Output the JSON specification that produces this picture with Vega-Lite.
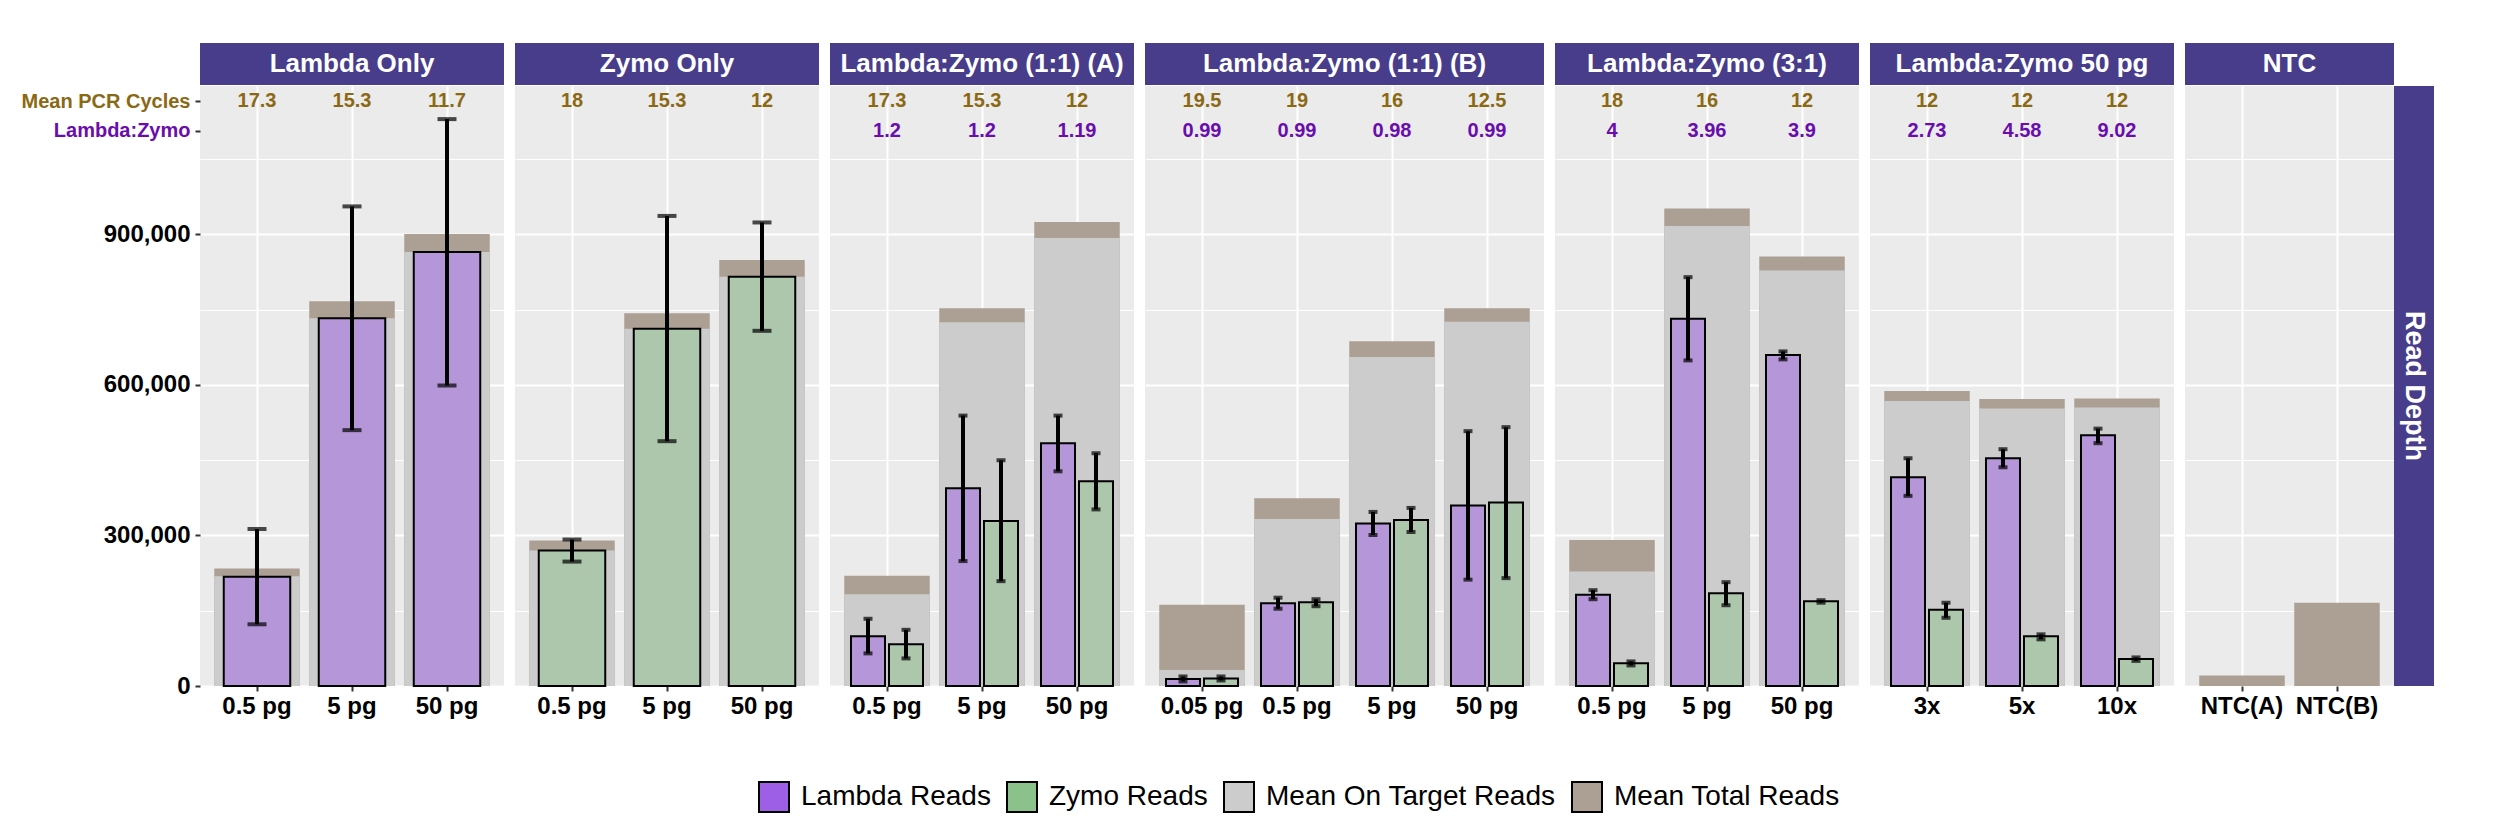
{
  "$schema": "https://vega.github.io/schema/vega-lite/v6.json",
  "padding": {"left": 21, "top": 43, "right": 10, "bottom": 10},
  "background": "white",
  "datasets": {
    "cats": [
      {"panel": "Lambda Only", "cat": "0.5 pg", "total": 234000, "ontarget": 219000, "cycles": 17.3},
      {"panel": "Lambda Only", "cat": "5 pg", "total": 767000, "ontarget": 733000, "cycles": 15.3},
      {"panel": "Lambda Only", "cat": "50 pg", "total": 901000, "ontarget": 865000, "cycles": 11.7},
      {"panel": "Zymo Only", "cat": "0.5 pg", "total": 290000, "ontarget": 270000, "cycles": 18},
      {"panel": "Zymo Only", "cat": "5 pg", "total": 743000, "ontarget": 712000, "cycles": 15.3},
      {"panel": "Zymo Only", "cat": "50 pg", "total": 849000, "ontarget": 816000, "cycles": 12},
      {"panel": "Lambda:Zymo (1:1) (A)", "cat": "0.5 pg", "total": 220000, "ontarget": 183000, "cycles": 17.3, "ratio": 1.2},
      {"panel": "Lambda:Zymo (1:1) (A)", "cat": "5 pg", "total": 753000, "ontarget": 725000, "cycles": 15.3, "ratio": 1.2},
      {"panel": "Lambda:Zymo (1:1) (A)", "cat": "50 pg", "total": 925000, "ontarget": 893000, "cycles": 12, "ratio": 1.19},
      {"panel": "Lambda:Zymo (1:1) (B)", "cat": "0.05 pg", "total": 162000, "ontarget": 32000, "cycles": 19.5, "ratio": 0.99},
      {"panel": "Lambda:Zymo (1:1) (B)", "cat": "0.5 pg", "total": 374000, "ontarget": 333000, "cycles": 19, "ratio": 0.99},
      {"panel": "Lambda:Zymo (1:1) (B)", "cat": "5 pg", "total": 687000, "ontarget": 656000, "cycles": 16, "ratio": 0.98},
      {"panel": "Lambda:Zymo (1:1) (B)", "cat": "50 pg", "total": 753000, "ontarget": 726000, "cycles": 12.5, "ratio": 0.99},
      {"panel": "Lambda:Zymo (3:1)", "cat": "0.5 pg", "total": 291000, "ontarget": 228000, "cycles": 18, "ratio": 4},
      {"panel": "Lambda:Zymo (3:1)", "cat": "5 pg", "total": 952000, "ontarget": 917000, "cycles": 16, "ratio": 3.96},
      {"panel": "Lambda:Zymo (3:1)", "cat": "50 pg", "total": 856000, "ontarget": 828000, "cycles": 12, "ratio": 3.9},
      {"panel": "Lambda:Zymo 50 pg", "cat": "3x", "total": 588000, "ontarget": 568000, "cycles": 12, "ratio": 2.73},
      {"panel": "Lambda:Zymo 50 pg", "cat": "5x", "total": 572000, "ontarget": 553000, "cycles": 12, "ratio": 4.58},
      {"panel": "Lambda:Zymo 50 pg", "cat": "10x", "total": 573000, "ontarget": 555000, "cycles": 12, "ratio": 9.02},
      {"panel": "NTC", "cat": "NTC(A)", "total": 21000, "ontarget": 0},
      {"panel": "NTC", "cat": "NTC(B)", "total": 166000, "ontarget": 0}
    ],
    "reads": [
      {"panel": "Lambda Only", "cat": "0.5 pg", "series": "Lambda Reads", "mean": 218000, "lo": 123000, "hi": 313000},
      {"panel": "Lambda Only", "cat": "5 pg", "series": "Lambda Reads", "mean": 733000, "lo": 510000, "hi": 956000},
      {"panel": "Lambda Only", "cat": "50 pg", "series": "Lambda Reads", "mean": 865000, "lo": 599000, "hi": 1130000},
      {"panel": "Zymo Only", "cat": "0.5 pg", "series": "Zymo Reads", "mean": 270000, "lo": 248000, "hi": 292000},
      {"panel": "Zymo Only", "cat": "5 pg", "series": "Zymo Reads", "mean": 712000, "lo": 488000, "hi": 937000},
      {"panel": "Zymo Only", "cat": "50 pg", "series": "Zymo Reads", "mean": 816000, "lo": 708000, "hi": 924000},
      {"panel": "Lambda:Zymo (1:1) (A)", "cat": "0.5 pg", "series": "Lambda Reads", "mean": 99000, "lo": 65000, "hi": 134000},
      {"panel": "Lambda:Zymo (1:1) (A)", "cat": "0.5 pg", "series": "Zymo Reads", "mean": 83000, "lo": 55000, "hi": 112000},
      {"panel": "Lambda:Zymo (1:1) (A)", "cat": "5 pg", "series": "Lambda Reads", "mean": 394000, "lo": 249000, "hi": 539000},
      {"panel": "Lambda:Zymo (1:1) (A)", "cat": "5 pg", "series": "Zymo Reads", "mean": 329000, "lo": 209000, "hi": 450000},
      {"panel": "Lambda:Zymo (1:1) (A)", "cat": "50 pg", "series": "Lambda Reads", "mean": 484000, "lo": 428000, "hi": 539000},
      {"panel": "Lambda:Zymo (1:1) (A)", "cat": "50 pg", "series": "Zymo Reads", "mean": 408000, "lo": 352000, "hi": 464000},
      {"panel": "Lambda:Zymo (1:1) (B)", "cat": "0.05 pg", "series": "Lambda Reads", "mean": 14000, "lo": 9000, "hi": 19000},
      {"panel": "Lambda:Zymo (1:1) (B)", "cat": "0.05 pg", "series": "Zymo Reads", "mean": 15000, "lo": 11000, "hi": 19000},
      {"panel": "Lambda:Zymo (1:1) (B)", "cat": "0.5 pg", "series": "Lambda Reads", "mean": 165000, "lo": 154000, "hi": 176000},
      {"panel": "Lambda:Zymo (1:1) (B)", "cat": "0.5 pg", "series": "Zymo Reads", "mean": 167000, "lo": 159000, "hi": 173000},
      {"panel": "Lambda:Zymo (1:1) (B)", "cat": "5 pg", "series": "Lambda Reads", "mean": 324000, "lo": 301000, "hi": 347000},
      {"panel": "Lambda:Zymo (1:1) (B)", "cat": "5 pg", "series": "Zymo Reads", "mean": 331000, "lo": 307000, "hi": 355000},
      {"panel": "Lambda:Zymo (1:1) (B)", "cat": "50 pg", "series": "Lambda Reads", "mean": 360000, "lo": 212000, "hi": 508000},
      {"panel": "Lambda:Zymo (1:1) (B)", "cat": "50 pg", "series": "Zymo Reads", "mean": 366000, "lo": 215000, "hi": 516000},
      {"panel": "Lambda:Zymo (3:1)", "cat": "0.5 pg", "series": "Lambda Reads", "mean": 182000, "lo": 173000, "hi": 191000},
      {"panel": "Lambda:Zymo (3:1)", "cat": "0.5 pg", "series": "Zymo Reads", "mean": 45500, "lo": 41000, "hi": 49000},
      {"panel": "Lambda:Zymo (3:1)", "cat": "5 pg", "series": "Lambda Reads", "mean": 732000, "lo": 649000, "hi": 815000},
      {"panel": "Lambda:Zymo (3:1)", "cat": "5 pg", "series": "Zymo Reads", "mean": 185000, "lo": 161000, "hi": 207000},
      {"panel": "Lambda:Zymo (3:1)", "cat": "50 pg", "series": "Lambda Reads", "mean": 660000, "lo": 651000, "hi": 667000},
      {"panel": "Lambda:Zymo (3:1)", "cat": "50 pg", "series": "Zymo Reads", "mean": 169000, "lo": 166000, "hi": 171000},
      {"panel": "Lambda:Zymo 50 pg", "cat": "3x", "series": "Lambda Reads", "mean": 416000, "lo": 379000, "hi": 454000},
      {"panel": "Lambda:Zymo 50 pg", "cat": "3x", "series": "Zymo Reads", "mean": 152000, "lo": 136000, "hi": 166000},
      {"panel": "Lambda:Zymo 50 pg", "cat": "5x", "series": "Lambda Reads", "mean": 454000, "lo": 436000, "hi": 472000},
      {"panel": "Lambda:Zymo 50 pg", "cat": "5x", "series": "Zymo Reads", "mean": 99000, "lo": 93000, "hi": 103000},
      {"panel": "Lambda:Zymo 50 pg", "cat": "10x", "series": "Lambda Reads", "mean": 500000, "lo": 484000, "hi": 513000},
      {"panel": "Lambda:Zymo 50 pg", "cat": "10x", "series": "Zymo Reads", "mean": 54000, "lo": 50000, "hi": 57000}
    ]
  },
  "spacing": 11,
  "resolve": {"scale": {"color": "shared", "x": "independent", "y": "independent"}},
  "hconcat": [
    {
      "bounds": "flush",
      "spacing": 1,
      "vconcat": [
        {
          "width": 304, "height": 42,
          "view": {"fill": "#483D8B", "stroke": null},
          "data": {"values": [{"label": "Lambda Only"}]},
          "mark": {"type": "text", "color": "white", "font": "Liberation Sans", "fontSize": 26, "fontWeight": "bold", "baseline": "middle"},
          "encoding": {"text": {"field": "label", "type": "nominal"}}
        },
        {
          "width": 304, "height": 600,
          "view": {"fill": "#EBEBEB", "stroke": null},
          "data": {"name": "cats"},
          "transform": [{"filter": "datum.panel == 'Lambda Only'"}],
          "encoding": {
            "x": {"field": "cat", "type": "nominal", "title": null,
              "scale": {"domain": ["0.5 pg", "5 pg", "50 pg"], "paddingInner": 0, "paddingOuter": 0.1},
              "axis": {"labelFont": "Liberation Sans", "labelFontSize": 24, "labelFontWeight": "bold", "labelColor": "black", "labelAngle": 0, "labelPadding": 3, "tickColor": "#333333", "tickSize": 5, "tickWidth": 2, "domain": false, "grid": true, "gridColor": "white", "gridWidth": 2, "bandPosition": 0.5}}
          },
          "layer": [
            {
              "mark": {"type": "bar", "width": {"band": 0.9}},
              "encoding": {
                "y": {"field": "total", "type": "quantitative", "title": null,
                  "scale": {"domain": [0, 1196000], "nice": false, "zero": true},
                  "axis": {
                    "values": [0, 150000, 300000, 450000, 600000, 750000, 900000, 1050000, 1107000, 1166000],
                    "labelExpr": "datum.value == 1166000 ? 'Mean PCR Cycles' : datum.value == 1107000 ? 'Lambda:Zymo' : (datum.value % 300000 == 0 ? format(datum.value, ',') : '')",
                    "labelFont": "Liberation Sans", "labelFontWeight": "bold",
                    "labelFontSize": {"condition": {"test": "datum.value > 1100000", "value": 20}, "value": 24},
                    "labelColor": {"expr": "datum.value == 1166000 ? '#8B6914' : datum.value == 1107000 ? '#6A0DAD' : 'black'"},
                    "labelPadding": 5, "labelOverlap": false,
                    "tickColor": "#333333", "tickSize": 5, "tickWidth": 2,
                    "tickOpacity": {"condition": {"test": "datum.value % 300000 != 0 && datum.value < 1100000", "value": 0}, "value": 1},
                    "domain": false, "grid": true, "gridColor": "white",
                    "gridWidth": {"condition": {"test": "datum.value % 300000 == 0", "value": 2}, "value": 1},
                    "gridOpacity": {"condition": {"test": "datum.value > 1100000", "value": 0}, "value": 1}
                  }},
                "color": {"datum": "Mean Total Reads", "type": "nominal", "title": null,
                  "scale": {"domain": ["Lambda Reads", "Zymo Reads", "Mean On Target Reads", "Mean Total Reads"], "range": ["#9D5FE6", "#8BC18B", "#CCCCCC", "#AC9F94"]},
                  "legend": {"orient": "none", "legendX": 558, "legendY": 738, "direction": "horizontal", "title": null, "symbolType": "square", "symbolSize": 900, "symbolStrokeWidth": 2,
                    "symbolStrokeColor": {"expr": "datum.value == 'Lambda Reads' || datum.value == 'Zymo Reads' ? 'black' : null"},
                    "symbolOpacity": 1, "labelFont": "Liberation Sans", "labelFontSize": 28, "labelColor": "black", "labelOffset": 11, "columnPadding": 12, "labelLimit": 0}}
              }
            },
            {
              "mark": {"type": "bar", "width": {"band": 0.9}},
              "encoding": {
                "y": {"field": "ontarget", "type": "quantitative"},
                "color": {"datum": "Mean On Target Reads", "type": "nominal", "title": null}
              }
            },
            {
              "data": {"name": "reads"},
              "transform": [{"filter": "datum.panel == 'Lambda Only'"}],
              "mark": {"type": "bar", "width": {"band": 0.7}, "stroke": "black", "strokeWidth": 2, "fillOpacity": 0.5},
              "encoding": {
                "y": {"field": "mean", "type": "quantitative"},
                "color": {"field": "series", "type": "nominal", "title": null}
              }
            },
            {
              "data": {"name": "reads"},
              "transform": [{"filter": "datum.panel == 'Lambda Only'"}],
              "mark": {"type": "rule", "color": "black", "strokeWidth": 4},
              "encoding": {"y": {"field": "lo", "type": "quantitative"}, "y2": {"field": "hi"}}
            },
            {
              "data": {"name": "reads"},
              "transform": [{"filter": "datum.panel == 'Lambda Only'"}],
              "mark": {"type": "tick", "color": "black", "thickness": 4, "size": 19},
              "encoding": {"y": {"field": "lo", "type": "quantitative"}}
            },
            {
              "data": {"name": "reads"},
              "transform": [{"filter": "datum.panel == 'Lambda Only'"}],
              "mark": {"type": "tick", "color": "black", "thickness": 4, "size": 19},
              "encoding": {"y": {"field": "hi", "type": "quantitative"}}
            },
            {
              "mark": {"type": "text", "font": "Liberation Sans", "fontSize": 20, "fontWeight": "bold", "color": "#8B6914", "baseline": "middle"},
              "encoding": {"y": {"datum": 1166000, "type": "quantitative"}, "text": {"field": "cycles", "type": "nominal"}}
            }
          ]
        }
      ]
    },
    {
      "bounds": "flush",
      "spacing": 1,
      "vconcat": [
        {
          "width": 304, "height": 42,
          "view": {"fill": "#483D8B", "stroke": null},
          "data": {"values": [{"label": "Zymo Only"}]},
          "mark": {"type": "text", "color": "white", "font": "Liberation Sans", "fontSize": 26, "fontWeight": "bold", "baseline": "middle"},
          "encoding": {"text": {"field": "label", "type": "nominal"}}
        },
        {
          "width": 304, "height": 600,
          "view": {"fill": "#EBEBEB", "stroke": null},
          "data": {"name": "cats"},
          "transform": [{"filter": "datum.panel == 'Zymo Only'"}],
          "encoding": {
            "x": {"field": "cat", "type": "nominal", "title": null,
              "scale": {"domain": ["0.5 pg", "5 pg", "50 pg"], "paddingInner": 0, "paddingOuter": 0.1},
              "axis": {"labelFont": "Liberation Sans", "labelFontSize": 24, "labelFontWeight": "bold", "labelColor": "black", "labelAngle": 0, "labelPadding": 3, "tickColor": "#333333", "tickSize": 5, "tickWidth": 2, "domain": false, "grid": true, "gridColor": "white", "gridWidth": 2, "bandPosition": 0.5}}
          },
          "layer": [
            {
              "mark": {"type": "bar", "width": {"band": 0.9}},
              "encoding": {
                "y": {"field": "total", "type": "quantitative", "title": null,
                  "scale": {"domain": [0, 1196000], "nice": false, "zero": true},
                  "axis": {
                    "values": [0, 150000, 300000, 450000, 600000, 750000, 900000, 1050000],
                    "labels": false, "ticks": false, "domain": false, "grid": true, "gridColor": "white",
                    "gridWidth": {"condition": {"test": "datum.value % 300000 == 0", "value": 2}, "value": 1}
                  }},
                "color": {"datum": "Mean Total Reads", "type": "nominal", "title": null}
              }
            },
            {
              "mark": {"type": "bar", "width": {"band": 0.9}},
              "encoding": {
                "y": {"field": "ontarget", "type": "quantitative"},
                "color": {"datum": "Mean On Target Reads", "type": "nominal", "title": null}
              }
            },
            {
              "data": {"name": "reads"},
              "transform": [{"filter": "datum.panel == 'Zymo Only'"}],
              "mark": {"type": "bar", "width": {"band": 0.7}, "stroke": "black", "strokeWidth": 2, "fillOpacity": 0.5},
              "encoding": {
                "y": {"field": "mean", "type": "quantitative"},
                "color": {"field": "series", "type": "nominal", "title": null}
              }
            },
            {
              "data": {"name": "reads"},
              "transform": [{"filter": "datum.panel == 'Zymo Only'"}],
              "mark": {"type": "rule", "color": "black", "strokeWidth": 4},
              "encoding": {"y": {"field": "lo", "type": "quantitative"}, "y2": {"field": "hi"}}
            },
            {
              "data": {"name": "reads"},
              "transform": [{"filter": "datum.panel == 'Zymo Only'"}],
              "mark": {"type": "tick", "color": "black", "thickness": 4, "size": 19},
              "encoding": {"y": {"field": "lo", "type": "quantitative"}}
            },
            {
              "data": {"name": "reads"},
              "transform": [{"filter": "datum.panel == 'Zymo Only'"}],
              "mark": {"type": "tick", "color": "black", "thickness": 4, "size": 19},
              "encoding": {"y": {"field": "hi", "type": "quantitative"}}
            },
            {
              "mark": {"type": "text", "font": "Liberation Sans", "fontSize": 20, "fontWeight": "bold", "color": "#8B6914", "baseline": "middle"},
              "encoding": {"y": {"datum": 1166000, "type": "quantitative"}, "text": {"field": "cycles", "type": "nominal"}}
            }
          ]
        }
      ]
    },
    {
      "bounds": "flush",
      "spacing": 1,
      "vconcat": [
        {
          "width": 304, "height": 42,
          "view": {"fill": "#483D8B", "stroke": null},
          "data": {"values": [{"label": "Lambda:Zymo (1:1) (A)"}]},
          "mark": {"type": "text", "color": "white", "font": "Liberation Sans", "fontSize": 26, "fontWeight": "bold", "baseline": "middle"},
          "encoding": {"text": {"field": "label", "type": "nominal"}}
        },
        {
          "width": 304, "height": 600,
          "view": {"fill": "#EBEBEB", "stroke": null},
          "data": {"name": "cats"},
          "transform": [{"filter": "datum.panel == 'Lambda:Zymo (1:1) (A)'"}],
          "encoding": {
            "x": {"field": "cat", "type": "nominal", "title": null,
              "scale": {"domain": ["0.5 pg", "5 pg", "50 pg"], "paddingInner": 0, "paddingOuter": 0.1},
              "axis": {"labelFont": "Liberation Sans", "labelFontSize": 24, "labelFontWeight": "bold", "labelColor": "black", "labelAngle": 0, "labelPadding": 3, "tickColor": "#333333", "tickSize": 5, "tickWidth": 2, "domain": false, "grid": true, "gridColor": "white", "gridWidth": 2, "bandPosition": 0.5}}
          },
          "layer": [
            {
              "mark": {"type": "bar", "width": {"band": 0.9}},
              "encoding": {
                "y": {"field": "total", "type": "quantitative", "title": null,
                  "scale": {"domain": [0, 1196000], "nice": false, "zero": true},
                  "axis": {
                    "values": [0, 150000, 300000, 450000, 600000, 750000, 900000, 1050000],
                    "labels": false, "ticks": false, "domain": false, "grid": true, "gridColor": "white",
                    "gridWidth": {"condition": {"test": "datum.value % 300000 == 0", "value": 2}, "value": 1}
                  }},
                "color": {"datum": "Mean Total Reads", "type": "nominal", "title": null}
              }
            },
            {
              "mark": {"type": "bar", "width": {"band": 0.9}},
              "encoding": {
                "y": {"field": "ontarget", "type": "quantitative"},
                "color": {"datum": "Mean On Target Reads", "type": "nominal", "title": null}
              }
            },
            {
              "data": {"name": "reads"},
              "transform": [{"filter": "datum.panel == 'Lambda:Zymo (1:1) (A)'"}],
              "mark": {"type": "bar", "stroke": "black", "strokeWidth": 2, "fillOpacity": 0.5},
              "encoding": {
                "xOffset": {"field": "series", "type": "nominal", "scale": {"domain": ["Lambda Reads", "Zymo Reads"], "paddingInner": 0.105, "paddingOuter": 0.3026}},
                "y": {"field": "mean", "type": "quantitative"},
                "color": {"field": "series", "type": "nominal", "title": null}
              }
            },
            {
              "data": {"name": "reads"},
              "transform": [{"filter": "datum.panel == 'Lambda:Zymo (1:1) (A)'"}],
              "mark": {"type": "rule", "color": "black", "strokeWidth": 4},
              "encoding": {"xOffset": {"field": "series", "type": "nominal"}, "y": {"field": "lo", "type": "quantitative"}, "y2": {"field": "hi"}}
            },
            {
              "data": {"name": "reads"},
              "transform": [{"filter": "datum.panel == 'Lambda:Zymo (1:1) (A)'"}],
              "mark": {"type": "tick", "color": "black", "thickness": 4, "size": 9},
              "encoding": {"xOffset": {"field": "series", "type": "nominal"}, "y": {"field": "lo", "type": "quantitative"}}
            },
            {
              "data": {"name": "reads"},
              "transform": [{"filter": "datum.panel == 'Lambda:Zymo (1:1) (A)'"}],
              "mark": {"type": "tick", "color": "black", "thickness": 4, "size": 9},
              "encoding": {"xOffset": {"field": "series", "type": "nominal"}, "y": {"field": "hi", "type": "quantitative"}}
            },
            {
              "mark": {"type": "text", "font": "Liberation Sans", "fontSize": 20, "fontWeight": "bold", "color": "#8B6914", "baseline": "middle"},
              "encoding": {"y": {"datum": 1166000, "type": "quantitative"}, "text": {"field": "cycles", "type": "nominal"}}
            },
            {
              "mark": {"type": "text", "font": "Liberation Sans", "fontSize": 20, "fontWeight": "bold", "color": "#6A0DAD", "baseline": "middle"},
              "encoding": {"y": {"datum": 1107000, "type": "quantitative"}, "text": {"field": "ratio", "type": "nominal"}}
            }
          ]
        }
      ]
    },
    {
      "bounds": "flush",
      "spacing": 1,
      "vconcat": [
        {
          "width": 399, "height": 42,
          "view": {"fill": "#483D8B", "stroke": null},
          "data": {"values": [{"label": "Lambda:Zymo (1:1) (B)"}]},
          "mark": {"type": "text", "color": "white", "font": "Liberation Sans", "fontSize": 26, "fontWeight": "bold", "baseline": "middle"},
          "encoding": {"text": {"field": "label", "type": "nominal"}}
        },
        {
          "width": 399, "height": 600,
          "view": {"fill": "#EBEBEB", "stroke": null},
          "data": {"name": "cats"},
          "transform": [{"filter": "datum.panel == 'Lambda:Zymo (1:1) (B)'"}],
          "encoding": {
            "x": {"field": "cat", "type": "nominal", "title": null,
              "scale": {"domain": ["0.05 pg", "0.5 pg", "5 pg", "50 pg"], "paddingInner": 0, "paddingOuter": 0.1},
              "axis": {"labelFont": "Liberation Sans", "labelFontSize": 24, "labelFontWeight": "bold", "labelColor": "black", "labelAngle": 0, "labelPadding": 3, "tickColor": "#333333", "tickSize": 5, "tickWidth": 2, "domain": false, "grid": true, "gridColor": "white", "gridWidth": 2, "bandPosition": 0.5}}
          },
          "layer": [
            {
              "mark": {"type": "bar", "width": {"band": 0.9}},
              "encoding": {
                "y": {"field": "total", "type": "quantitative", "title": null,
                  "scale": {"domain": [0, 1196000], "nice": false, "zero": true},
                  "axis": {
                    "values": [0, 150000, 300000, 450000, 600000, 750000, 900000, 1050000],
                    "labels": false, "ticks": false, "domain": false, "grid": true, "gridColor": "white",
                    "gridWidth": {"condition": {"test": "datum.value % 300000 == 0", "value": 2}, "value": 1}
                  }},
                "color": {"datum": "Mean Total Reads", "type": "nominal", "title": null}
              }
            },
            {
              "mark": {"type": "bar", "width": {"band": 0.9}},
              "encoding": {
                "y": {"field": "ontarget", "type": "quantitative"},
                "color": {"datum": "Mean On Target Reads", "type": "nominal", "title": null}
              }
            },
            {
              "data": {"name": "reads"},
              "transform": [{"filter": "datum.panel == 'Lambda:Zymo (1:1) (B)'"}],
              "mark": {"type": "bar", "stroke": "black", "strokeWidth": 2, "fillOpacity": 0.5},
              "encoding": {
                "xOffset": {"field": "series", "type": "nominal", "scale": {"domain": ["Lambda Reads", "Zymo Reads"], "paddingInner": 0.105, "paddingOuter": 0.3026}},
                "y": {"field": "mean", "type": "quantitative"},
                "color": {"field": "series", "type": "nominal", "title": null}
              }
            },
            {
              "data": {"name": "reads"},
              "transform": [{"filter": "datum.panel == 'Lambda:Zymo (1:1) (B)'"}],
              "mark": {"type": "rule", "color": "black", "strokeWidth": 4},
              "encoding": {"xOffset": {"field": "series", "type": "nominal"}, "y": {"field": "lo", "type": "quantitative"}, "y2": {"field": "hi"}}
            },
            {
              "data": {"name": "reads"},
              "transform": [{"filter": "datum.panel == 'Lambda:Zymo (1:1) (B)'"}],
              "mark": {"type": "tick", "color": "black", "thickness": 4, "size": 9},
              "encoding": {"xOffset": {"field": "series", "type": "nominal"}, "y": {"field": "lo", "type": "quantitative"}}
            },
            {
              "data": {"name": "reads"},
              "transform": [{"filter": "datum.panel == 'Lambda:Zymo (1:1) (B)'"}],
              "mark": {"type": "tick", "color": "black", "thickness": 4, "size": 9},
              "encoding": {"xOffset": {"field": "series", "type": "nominal"}, "y": {"field": "hi", "type": "quantitative"}}
            },
            {
              "mark": {"type": "text", "font": "Liberation Sans", "fontSize": 20, "fontWeight": "bold", "color": "#8B6914", "baseline": "middle"},
              "encoding": {"y": {"datum": 1166000, "type": "quantitative"}, "text": {"field": "cycles", "type": "nominal"}}
            },
            {
              "mark": {"type": "text", "font": "Liberation Sans", "fontSize": 20, "fontWeight": "bold", "color": "#6A0DAD", "baseline": "middle"},
              "encoding": {"y": {"datum": 1107000, "type": "quantitative"}, "text": {"field": "ratio", "type": "nominal"}}
            }
          ]
        }
      ]
    },
    {
      "bounds": "flush",
      "spacing": 1,
      "vconcat": [
        {
          "width": 304, "height": 42,
          "view": {"fill": "#483D8B", "stroke": null},
          "data": {"values": [{"label": "Lambda:Zymo (3:1)"}]},
          "mark": {"type": "text", "color": "white", "font": "Liberation Sans", "fontSize": 26, "fontWeight": "bold", "baseline": "middle"},
          "encoding": {"text": {"field": "label", "type": "nominal"}}
        },
        {
          "width": 304, "height": 600,
          "view": {"fill": "#EBEBEB", "stroke": null},
          "data": {"name": "cats"},
          "transform": [{"filter": "datum.panel == 'Lambda:Zymo (3:1)'"}],
          "encoding": {
            "x": {"field": "cat", "type": "nominal", "title": null,
              "scale": {"domain": ["0.5 pg", "5 pg", "50 pg"], "paddingInner": 0, "paddingOuter": 0.1},
              "axis": {"labelFont": "Liberation Sans", "labelFontSize": 24, "labelFontWeight": "bold", "labelColor": "black", "labelAngle": 0, "labelPadding": 3, "tickColor": "#333333", "tickSize": 5, "tickWidth": 2, "domain": false, "grid": true, "gridColor": "white", "gridWidth": 2, "bandPosition": 0.5}}
          },
          "layer": [
            {
              "mark": {"type": "bar", "width": {"band": 0.9}},
              "encoding": {
                "y": {"field": "total", "type": "quantitative", "title": null,
                  "scale": {"domain": [0, 1196000], "nice": false, "zero": true},
                  "axis": {
                    "values": [0, 150000, 300000, 450000, 600000, 750000, 900000, 1050000],
                    "labels": false, "ticks": false, "domain": false, "grid": true, "gridColor": "white",
                    "gridWidth": {"condition": {"test": "datum.value % 300000 == 0", "value": 2}, "value": 1}
                  }},
                "color": {"datum": "Mean Total Reads", "type": "nominal", "title": null}
              }
            },
            {
              "mark": {"type": "bar", "width": {"band": 0.9}},
              "encoding": {
                "y": {"field": "ontarget", "type": "quantitative"},
                "color": {"datum": "Mean On Target Reads", "type": "nominal", "title": null}
              }
            },
            {
              "data": {"name": "reads"},
              "transform": [{"filter": "datum.panel == 'Lambda:Zymo (3:1)'"}],
              "mark": {"type": "bar", "stroke": "black", "strokeWidth": 2, "fillOpacity": 0.5},
              "encoding": {
                "xOffset": {"field": "series", "type": "nominal", "scale": {"domain": ["Lambda Reads", "Zymo Reads"], "paddingInner": 0.105, "paddingOuter": 0.3026}},
                "y": {"field": "mean", "type": "quantitative"},
                "color": {"field": "series", "type": "nominal", "title": null}
              }
            },
            {
              "data": {"name": "reads"},
              "transform": [{"filter": "datum.panel == 'Lambda:Zymo (3:1)'"}],
              "mark": {"type": "rule", "color": "black", "strokeWidth": 4},
              "encoding": {"xOffset": {"field": "series", "type": "nominal"}, "y": {"field": "lo", "type": "quantitative"}, "y2": {"field": "hi"}}
            },
            {
              "data": {"name": "reads"},
              "transform": [{"filter": "datum.panel == 'Lambda:Zymo (3:1)'"}],
              "mark": {"type": "tick", "color": "black", "thickness": 4, "size": 9},
              "encoding": {"xOffset": {"field": "series", "type": "nominal"}, "y": {"field": "lo", "type": "quantitative"}}
            },
            {
              "data": {"name": "reads"},
              "transform": [{"filter": "datum.panel == 'Lambda:Zymo (3:1)'"}],
              "mark": {"type": "tick", "color": "black", "thickness": 4, "size": 9},
              "encoding": {"xOffset": {"field": "series", "type": "nominal"}, "y": {"field": "hi", "type": "quantitative"}}
            },
            {
              "mark": {"type": "text", "font": "Liberation Sans", "fontSize": 20, "fontWeight": "bold", "color": "#8B6914", "baseline": "middle"},
              "encoding": {"y": {"datum": 1166000, "type": "quantitative"}, "text": {"field": "cycles", "type": "nominal"}}
            },
            {
              "mark": {"type": "text", "font": "Liberation Sans", "fontSize": 20, "fontWeight": "bold", "color": "#6A0DAD", "baseline": "middle"},
              "encoding": {"y": {"datum": 1107000, "type": "quantitative"}, "text": {"field": "ratio", "type": "nominal"}}
            }
          ]
        }
      ]
    },
    {
      "bounds": "flush",
      "spacing": 1,
      "vconcat": [
        {
          "width": 304, "height": 42,
          "view": {"fill": "#483D8B", "stroke": null},
          "data": {"values": [{"label": "Lambda:Zymo 50 pg"}]},
          "mark": {"type": "text", "color": "white", "font": "Liberation Sans", "fontSize": 26, "fontWeight": "bold", "baseline": "middle"},
          "encoding": {"text": {"field": "label", "type": "nominal"}}
        },
        {
          "width": 304, "height": 600,
          "view": {"fill": "#EBEBEB", "stroke": null},
          "data": {"name": "cats"},
          "transform": [{"filter": "datum.panel == 'Lambda:Zymo 50 pg'"}],
          "encoding": {
            "x": {"field": "cat", "type": "nominal", "title": null,
              "scale": {"domain": ["3x", "5x", "10x"], "paddingInner": 0, "paddingOuter": 0.1},
              "axis": {"labelFont": "Liberation Sans", "labelFontSize": 24, "labelFontWeight": "bold", "labelColor": "black", "labelAngle": 0, "labelPadding": 3, "tickColor": "#333333", "tickSize": 5, "tickWidth": 2, "domain": false, "grid": true, "gridColor": "white", "gridWidth": 2, "bandPosition": 0.5}}
          },
          "layer": [
            {
              "mark": {"type": "bar", "width": {"band": 0.9}},
              "encoding": {
                "y": {"field": "total", "type": "quantitative", "title": null,
                  "scale": {"domain": [0, 1196000], "nice": false, "zero": true},
                  "axis": {
                    "values": [0, 150000, 300000, 450000, 600000, 750000, 900000, 1050000],
                    "labels": false, "ticks": false, "domain": false, "grid": true, "gridColor": "white",
                    "gridWidth": {"condition": {"test": "datum.value % 300000 == 0", "value": 2}, "value": 1}
                  }},
                "color": {"datum": "Mean Total Reads", "type": "nominal", "title": null}
              }
            },
            {
              "mark": {"type": "bar", "width": {"band": 0.9}},
              "encoding": {
                "y": {"field": "ontarget", "type": "quantitative"},
                "color": {"datum": "Mean On Target Reads", "type": "nominal", "title": null}
              }
            },
            {
              "data": {"name": "reads"},
              "transform": [{"filter": "datum.panel == 'Lambda:Zymo 50 pg'"}],
              "mark": {"type": "bar", "stroke": "black", "strokeWidth": 2, "fillOpacity": 0.5},
              "encoding": {
                "xOffset": {"field": "series", "type": "nominal", "scale": {"domain": ["Lambda Reads", "Zymo Reads"], "paddingInner": 0.105, "paddingOuter": 0.3026}},
                "y": {"field": "mean", "type": "quantitative"},
                "color": {"field": "series", "type": "nominal", "title": null}
              }
            },
            {
              "data": {"name": "reads"},
              "transform": [{"filter": "datum.panel == 'Lambda:Zymo 50 pg'"}],
              "mark": {"type": "rule", "color": "black", "strokeWidth": 4},
              "encoding": {"xOffset": {"field": "series", "type": "nominal"}, "y": {"field": "lo", "type": "quantitative"}, "y2": {"field": "hi"}}
            },
            {
              "data": {"name": "reads"},
              "transform": [{"filter": "datum.panel == 'Lambda:Zymo 50 pg'"}],
              "mark": {"type": "tick", "color": "black", "thickness": 4, "size": 9},
              "encoding": {"xOffset": {"field": "series", "type": "nominal"}, "y": {"field": "lo", "type": "quantitative"}}
            },
            {
              "data": {"name": "reads"},
              "transform": [{"filter": "datum.panel == 'Lambda:Zymo 50 pg'"}],
              "mark": {"type": "tick", "color": "black", "thickness": 4, "size": 9},
              "encoding": {"xOffset": {"field": "series", "type": "nominal"}, "y": {"field": "hi", "type": "quantitative"}}
            },
            {
              "mark": {"type": "text", "font": "Liberation Sans", "fontSize": 20, "fontWeight": "bold", "color": "#8B6914", "baseline": "middle"},
              "encoding": {"y": {"datum": 1166000, "type": "quantitative"}, "text": {"field": "cycles", "type": "nominal"}}
            },
            {
              "mark": {"type": "text", "font": "Liberation Sans", "fontSize": 20, "fontWeight": "bold", "color": "#6A0DAD", "baseline": "middle"},
              "encoding": {"y": {"datum": 1107000, "type": "quantitative"}, "text": {"field": "ratio", "type": "nominal"}}
            }
          ]
        }
      ]
    },
    {
      "bounds": "flush",
      "spacing": 1,
      "vconcat": [
        {
          "width": 209, "height": 42,
          "view": {"fill": "#483D8B", "stroke": null},
          "data": {"values": [{"label": "NTC"}]},
          "mark": {"type": "text", "color": "white", "font": "Liberation Sans", "fontSize": 26, "fontWeight": "bold", "baseline": "middle"},
          "encoding": {"text": {"field": "label", "type": "nominal"}}
        },
        {
          "spacing": 0,
          "hconcat": [
            {
              "width": 209, "height": 600,
              "view": {"fill": "#EBEBEB", "stroke": null},
              "data": {"name": "cats"},
              "transform": [{"filter": "datum.panel == 'NTC'"}],
              "encoding": {
                "x": {"field": "cat", "type": "nominal", "title": null,
                  "scale": {"domain": ["NTC(A)", "NTC(B)"], "paddingInner": 0, "paddingOuter": 0.1},
                  "axis": {"labelFont": "Liberation Sans", "labelFontSize": 24, "labelFontWeight": "bold", "labelColor": "black", "labelAngle": 0, "labelPadding": 3, "tickColor": "#333333", "tickSize": 5, "tickWidth": 2, "domain": false, "grid": true, "gridColor": "white", "gridWidth": 2, "bandPosition": 0.5}}
              },
              "layer": [
                {
                  "mark": {"type": "bar", "width": {"band": 0.9}},
                  "encoding": {
                    "y": {"field": "total", "type": "quantitative", "title": null,
                      "scale": {"domain": [0, 1196000], "nice": false, "zero": true},
                      "axis": {
                        "values": [0, 150000, 300000, 450000, 600000, 750000, 900000, 1050000],
                        "labels": false, "ticks": false, "domain": false, "grid": true, "gridColor": "white",
                        "gridWidth": {"condition": {"test": "datum.value % 300000 == 0", "value": 2}, "value": 1}
                      }},
                    "color": {"datum": "Mean Total Reads", "type": "nominal", "title": null}
                  }
                },
                {
                  "mark": {"type": "bar", "width": {"band": 0.9}},
                  "encoding": {
                    "y": {"field": "ontarget", "type": "quantitative"},
                    "color": {"datum": "Mean On Target Reads", "type": "nominal", "title": null}
                  }
                }
              ]
            },
            {
              "width": 40, "height": 600,
              "view": {"fill": "#483D8B", "stroke": null},
              "data": {"values": [{"label": "Read Depth"}]},
              "mark": {"type": "text", "angle": 90, "color": "white", "font": "Liberation Sans", "fontSize": 27, "fontWeight": "bold", "baseline": "middle"},
              "encoding": {"text": {"field": "label", "type": "nominal"}}
            }
          ]
        }
      ]
    }
  ],
  "config": {
    "view": {"stroke": null},
    "font": "Liberation Sans"
  }
}
